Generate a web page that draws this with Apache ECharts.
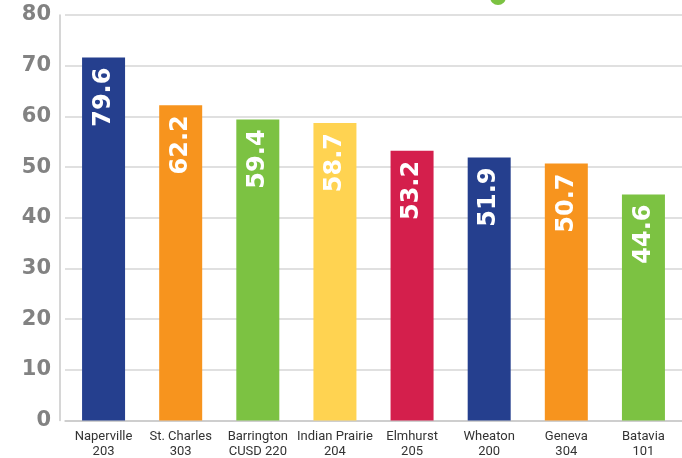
<!DOCTYPE html>
<html lang="en">
<head>
    <meta charset="UTF-8">
    <title>Districts chart</title>
    <script src="https://cdn.jsdelivr.net/npm/echarts@6/dist/echarts.min.js"></script>
    <style>
        body { margin: 0; background: #fff; }
    </style>
</head>
<body>
    <div id="main" style="width: 682px;height:458px;"></div>
    <script type="text/javascript">
    // districts on the x axis
    var districts = ['Naperville\n203', 'St. Charles\n303', 'Barrington\nCUSD 220', 'Indian Prairie\n204',
                     'Elmhurst\n205', 'Wheaton\n200', 'Geneva\n304', 'Batavia\n101'];
    // bar heights as drawn
    var barValues = [71.6, 62.2, 59.4, 58.7, 53.2, 51.9, 50.7, 44.6];
    // numbers printed inside the bars
    var barLabels = ['79.6', '62.2', '59.4', '58.7', '53.2', '51.9', '50.7', '44.6'];
    var barColors = ['#253f8e', '#f7941e', '#7cc242', '#ffd351', '#d41f4c', '#253f8e', '#f7941e', '#7cc242'];

    var myChart = echarts.init(document.getElementById('main'));

    var option = {
        animation: false,
        grid: { left: 65, right: 0, top: 15, bottom: 37.5, outerBoundsMode: 'none' },
        graphic: [{
            type: 'circle',
            shape: { cx: 498, cy: -3, r: 8 },
            style: { fill: '#7cc242' }
        }],
        xAxis: {
            type: 'category',
            data: districts,
            axisLine: { lineStyle: { color: '#c8c8c8', width: 1.5 } },
            axisTick: { show: false },
            axisLabel: {
                interval: 0,
                color: '#333',
                fontFamily: 'Roboto',
                fontSize: 13,
                lineHeight: 15,
                margin: 9
            }
        },
        yAxis: {
            type: 'value',
            min: 0,
            max: 80,
            interval: 10,
            offset: 5,
            axisLine: { show: true, lineStyle: { color: '#c8c8c8', width: 1.5 } },
            axisTick: { show: false },
            splitLine: { lineStyle: { color: '#d6d6d6', width: 1.5 } },
            axisLabel: {
                color: '#828282',
                fontFamily: 'DejaVu Sans',
                fontWeight: 'bold',
                fontSize: 21,
                margin: 9
            }
        },
        series: [{
            type: 'bar',
            barWidth: 43,
            data: barValues.map(function (v, i) {
                return { value: v, itemStyle: { color: barColors[i] } };
            }),
            label: {
                show: true,
                position: 'insideTop',
                rotate: 90,
                align: 'right',
                verticalAlign: 'middle',
                distance: 10,
                color: '#fff',
                fontFamily: 'DejaVu Sans',
                fontWeight: 'bold',
                fontSize: 24,
                formatter: function (p) { return barLabels[p.dataIndex]; }
            }
        }]
    };

    myChart.setOption(option);
    </script>
</body>
</html>
